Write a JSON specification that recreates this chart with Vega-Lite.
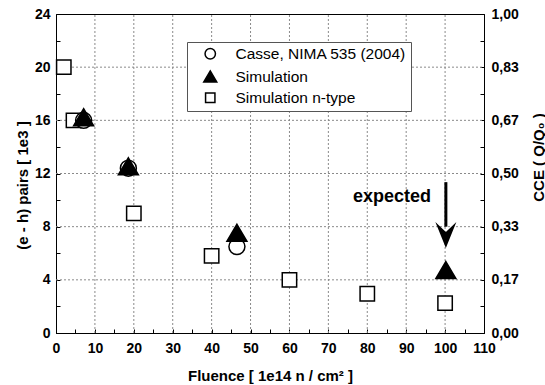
{
  "$schema": "https://vega.github.io/schema/vega-lite/v6.json",
  "width": 428,
  "height": 319,
  "autosize": {"type": "none"},
  "padding": {"left": 56, "top": 14, "right": 61, "bottom": 52},
  "background": "white",
  "config": {
    "view": {"stroke": "#000", "strokeWidth": 1},
    "font": "Liberation Sans",
    "axis": {
      "labelFont": "Liberation Sans", "labelFontWeight": "bold", "labelFontSize": 14, "labelColor": "#000",
      "titleFont": "Liberation Sans", "titleFontWeight": "bold", "titleFontSize": 15, "titleColor": "#000",
      "domainColor": "#000", "domainWidth": 1, "tickColor": "#000", "tickSize": -4, "tickWidth": 1,
      "grid": false, "labelFlush": false, "labelOverlap": false
    }
  },
  "datasets": {
    "points": [
      {"series": "Simulation n-type", "fluence": 2, "pairs": 20},
      {"series": "Simulation n-type", "fluence": 4.5, "pairs": 16},
      {"series": "Simulation n-type", "fluence": 20, "pairs": 9},
      {"series": "Simulation n-type", "fluence": 40, "pairs": 5.8},
      {"series": "Simulation n-type", "fluence": 60, "pairs": 4},
      {"series": "Simulation n-type", "fluence": 80, "pairs": 2.95},
      {"series": "Simulation n-type", "fluence": 100, "pairs": 2.25},
      {"series": "Casse, NIMA 535 (2004)", "fluence": 7.1, "pairs": 16},
      {"series": "Casse, NIMA 535 (2004)", "fluence": 18.6, "pairs": 12.4},
      {"series": "Casse, NIMA 535 (2004)", "fluence": 46.5, "pairs": 6.5},
      {"series": "Simulation", "fluence": 7.1, "pairs": 16.2},
      {"series": "Simulation", "fluence": 18.6, "pairs": 12.5},
      {"series": "Simulation", "fluence": 46.5, "pairs": 7.5},
      {"series": "Simulation", "fluence": 100.2, "pairs": 4.7}
    ]
  },
  "layer": [
    {
      "encoding": {
        "x": {
          "field": "fluence", "type": "quantitative",
          "scale": {"domain": [0, 110], "nice": false, "zero": false},
          "axis": {
            "grid": false,
            "values": [0, 5, 10, 15, 20, 25, 30, 35, 40, 45, 50, 55, 60, 65, 70, 75, 80, 85, 90, 95, 100, 105, 110],
            "labelExpr": "datum.value % 10 === 0 ? datum.label : ''",
            "labelOverlap": false,
            "labelPadding": 12,
            "title": "Fluence [ 1e14 n / cm² ]",
            "titleX": 214, "titleY": 42, "titleAlign": "center", "titleBaseline": "middle"
          }
        },
        "y": {
          "field": "pairs", "type": "quantitative",
          "scale": {"domain": [0, 24], "nice": false},
          "axis": {
            "orient": "left",
            "grid": false,
            "values": [0, 2, 4, 6, 8, 10, 12, 14, 16, 18, 20, 22, 24],
            "labelExpr": "datum.value % 4 === 0 ? datum.label : ''",
            "labelOverlap": false,
            "labelPadding": 10,
            "title": "(e - h) pairs [ 1e3 ]",
            "titleAngle": -90, "titleX": -34, "titleY": 171, "titleAlign": "center", "titleBaseline": "middle"
          }
        }
      },
      "layer": [
        {
          "data": {"values": [
            {"fluence": 10, "pairs": 0, "pairs_top": 24}, {"fluence": 20, "pairs": 0, "pairs_top": 24},
            {"fluence": 30, "pairs": 0, "pairs_top": 24}, {"fluence": 40, "pairs": 0, "pairs_top": 24},
            {"fluence": 50, "pairs": 0, "pairs_top": 24}, {"fluence": 60, "pairs": 0, "pairs_top": 24},
            {"fluence": 70, "pairs": 0, "pairs_top": 24}, {"fluence": 80, "pairs": 0, "pairs_top": 24},
            {"fluence": 90, "pairs": 0, "pairs_top": 24}, {"fluence": 100, "pairs": 0, "pairs_top": 24}
          ]},
          "mark": {"type": "rule", "color": "#8a8a8a", "strokeWidth": 1, "strokeDash": [2, 2]},
          "encoding": {"y2": {"field": "pairs_top"}}
        },
        {
          "data": {"values": [
            {"pairs": 4, "fluence": 0, "fluence_right": 110}, {"pairs": 8, "fluence": 0, "fluence_right": 110},
            {"pairs": 12, "fluence": 0, "fluence_right": 110}, {"pairs": 16, "fluence": 0, "fluence_right": 110},
            {"pairs": 20, "fluence": 0, "fluence_right": 110}
          ]},
          "mark": {"type": "rule", "color": "#8a8a8a", "strokeWidth": 1, "strokeDash": [2, 2]},
          "encoding": {"x2": {"field": "fluence_right"}}
        },
        {
          "data": {"name": "points"},
          "mark": {"type": "point", "stroke": "black", "strokeWidth": 1.5, "opacity": 1, "fillOpacity": 1, "size": 400},
          "encoding": {
            "shape": {
              "field": "series", "type": "nominal",
              "scale": {
                "domain": ["Casse, NIMA 535 (2004)", "Simulation", "Simulation n-type"],
                "range": [
                  "M 0.8 0 A 0.8 0.8 0 1 1 -0.8 0 A 0.8 0.8 0 1 1 0.8 0 Z",
                  "M 0 -0.9 L 1 0.8 L -1 0.8 Z",
                  "M -0.72 -0.72 L 0.72 -0.72 L 0.72 0.72 L -0.72 0.72 Z"
                ]
              },
              "legend": {
                "title": null, "orient": "none", "legendX": 131, "legendY": 28,
                "fillColor": "white", "strokeColor": "#555", "padding": 4,
                "symbolOffset": 11.5, "labelOffset": 17.5, "rowPadding": 4, "labelLimit": 400,
                "labelFont": "Liberation Sans", "labelFontSize": 15.5, "labelColor": "#000",
                "symbolSize": 169, "symbolStrokeWidth": 1.5,
                "encode": {"symbols": {"stroke": {"value": "black"}, "strokeWidth": {"value": 1.5}}}
              }
            },
            "fill": {
              "field": "series", "type": "nominal",
              "scale": {"domain": ["Casse, NIMA 535 (2004)", "Simulation", "Simulation n-type"], "range": ["white", "black", "white"]},
              "legend": {
                "title": null, "orient": "none", "legendX": 131, "legendY": 28,
                "fillColor": "white", "strokeColor": "#555", "padding": 4,
                "symbolOffset": 11.5, "labelOffset": 17.5, "rowPadding": 4, "labelLimit": 400,
                "labelFont": "Liberation Sans", "labelFontSize": 15.5, "labelColor": "#000",
                "symbolSize": 169, "symbolStrokeWidth": 1.5,
                "encode": {"symbols": {"stroke": {"value": "black"}, "strokeWidth": {"value": 1.5}}}
              }
            }
          }
        },
        {
          "data": {"values": [{"fluence": 100.2, "pairs": 11.35, "pairs_top": 8.0}]},
          "mark": {"type": "rule", "strokeWidth": 3, "color": "black"},
          "encoding": {
            "y2": {"field": "pairs_top"}
          }
        },
        {
          "data": {"values": [{"fluence": 100.2, "pairs": 7.37}]},
          "mark": {"type": "point", "shape": "M -1 -1.24 L 0 1.24 L 1 -1.24 L 0 -0.29 Z", "filled": true, "color": "black", "size": 441, "opacity": 1},
          "encoding": {}
        },
        {
          "data": {"values": [{"fluence": 96.4, "pairs": 9.87, "label": "expected"}]},
          "mark": {"type": "text", "align": "right", "baseline": "alphabetic", "fontSize": 18, "fontWeight": "bold", "font": "Liberation Sans", "color": "black"},
          "encoding": {
            "text": {"field": "label"}
          }
        }
      ]
    },
    {
      "data": {"values": [{"cce": 0}]},
      "mark": {"type": "rule", "opacity": 0},
      "encoding": {
        "y": {
          "field": "cce", "type": "quantitative",
          "scale": {"domain": [0, 1], "nice": false},
          "axis": {
            "orient": "right",
            "values": [0, 0.08333333, 0.16666667, 0.25, 0.33333333, 0.41666667, 0.5, 0.58333333, 0.66666667, 0.75, 0.83333333, 0.91666667, 1],
            "labelExpr": "round(datum.value * 12) % 2 === 0 ? replace(format(datum.value, '.2f'), '.', ',') : ''",
            "labelOverlap": false,
            "grid": false,
            "labelPadding": 11,
            "title": "CCE ( Q/Q₀ )",
            "titleAngle": -90, "titleX": 54, "titleY": 143, "titleAlign": "center", "titleBaseline": "middle"
          }
        }
      }
    }
  ],
  "resolve": {"scale": {"y": "independent"}}
}
